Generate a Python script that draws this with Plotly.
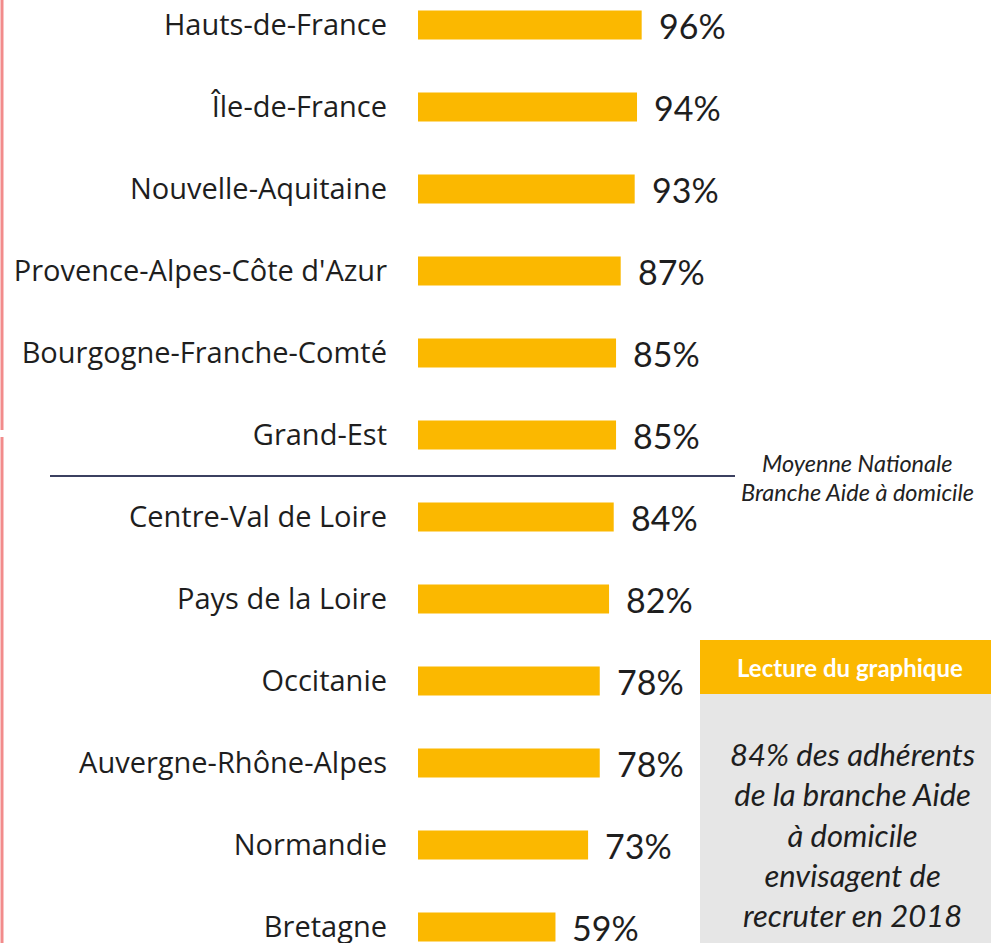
import plotly.graph_objects as go

regions = ["Hauts-de-France", "Île-de-France", "Nouvelle-Aquitaine",
           "Provence-Alpes-Côte d'Azur", "Bourgogne-Franche-Comté", "Grand-Est",
           "Centre-Val de Loire", "Pays de la Loire", "Occitanie",
           "Auvergne-Rhône-Alpes", "Normandie", "Bretagne"]
values = [96, 94, 93, 87, 85, 85, 84, 82, 78, 78, 73, 59]
value_labels = [f"{v}%" for v in values]

W, H = 991, 943
L = 418
BAR = "#FBB800"

def px(x):
    return (x - L) / (W - L)

def py(y):
    return 1 - y / H

fig = go.Figure()
fig.add_trace(go.Bar(
    x=values, y=regions, orientation="h", width=0.354,
    marker=dict(color=BAR, line=dict(width=0)),
    hoverinfo="skip",
))

annotations = []
for r, v, t in zip(regions, values, value_labels):
    annotations.append(dict(x=v, y=r, xref="x", yref="y", text=t, showarrow=False,
                            xanchor="left", yanchor="middle", xshift=15, yshift=0,
                            font=dict(family="Lato", size=34, color="#1e1e1e")))

annotations += [
    dict(x=px(857), y=py(463), xref="paper", yref="paper", text="<i>Moyenne Nationale</i>",
         showarrow=False, xanchor="center", yanchor="middle",
         font=dict(family="Lato", size=23.5, color="#222")),
    dict(x=px(857), y=py(492), xref="paper", yref="paper", text="<i>Branche Aide à domicile</i>",
         showarrow=False, xanchor="center", yanchor="middle",
         font=dict(family="Lato", size=23.5, color="#222")),
    dict(x=px(850), y=py(667), xref="paper", yref="paper", text="<b>Lecture du graphique</b>",
         showarrow=False, xanchor="center", yanchor="middle",
         font=dict(family="Lato", size=24, color="white")),
    dict(x=px(852), y=py(834), xref="paper", yref="paper",
         text="<i>84% des adhérents<br>de la branche Aide<br>à domicile<br>envisagent de<br>recruter en 2018</i>",
         showarrow=False, xanchor="center", yanchor="middle", align="center",
         font=dict(family="Lato", size=31, color="#1e1e1e")),
]

shapes = [
    dict(type="line", xref="paper", yref="paper", x0=px(2), x1=px(2), y0=py(0), y1=py(430),
         line=dict(color="#F28B8B", width=3)),
    dict(type="line", xref="paper", yref="paper", x0=px(2), x1=px(2), y0=py(437), y1=py(943),
         line=dict(color="#F28B8B", width=3)),
    dict(type="line", xref="paper", yref="y", x0=px(50), x1=px(735), y0=5.5, y1=5.5,
         line=dict(color="#3B4060", width=2)),
    dict(type="rect", xref="paper", yref="paper", x0=px(700), x1=1, y0=py(694), y1=py(640),
         fillcolor=BAR, line=dict(width=0), layer="below"),
    dict(type="rect", xref="paper", yref="paper", x0=px(700), x1=1, y0=0, y1=py(694),
         fillcolor="#E6E6E6", line=dict(width=0), layer="below"),
]

fig.update_layout(
    width=W, height=H,
    margin=dict(l=L, r=0, t=0, b=0, autoexpand=False),
    paper_bgcolor="white", plot_bgcolor="white",
    showlegend=False,
    xaxis=dict(range=[0, (W - L) / 2.33], visible=False, fixedrange=True),
    yaxis=dict(range=[11 + 16 / 82, -25 / 82], type="category", showgrid=False,
               zeroline=False, showline=False, ticks="", ticklabelstandoff=30,
               tickfont=dict(family="Open Sans", size=29, color="#1e1e1e"),
               automargin=False, fixedrange=True),
    annotations=annotations,
    shapes=shapes,
)

fig.write_html("out.html", config={"displayModeBar": False, "staticPlot": True},
               post_script="document.body.style.margin='0';document.body.style.overflow='hidden';")
